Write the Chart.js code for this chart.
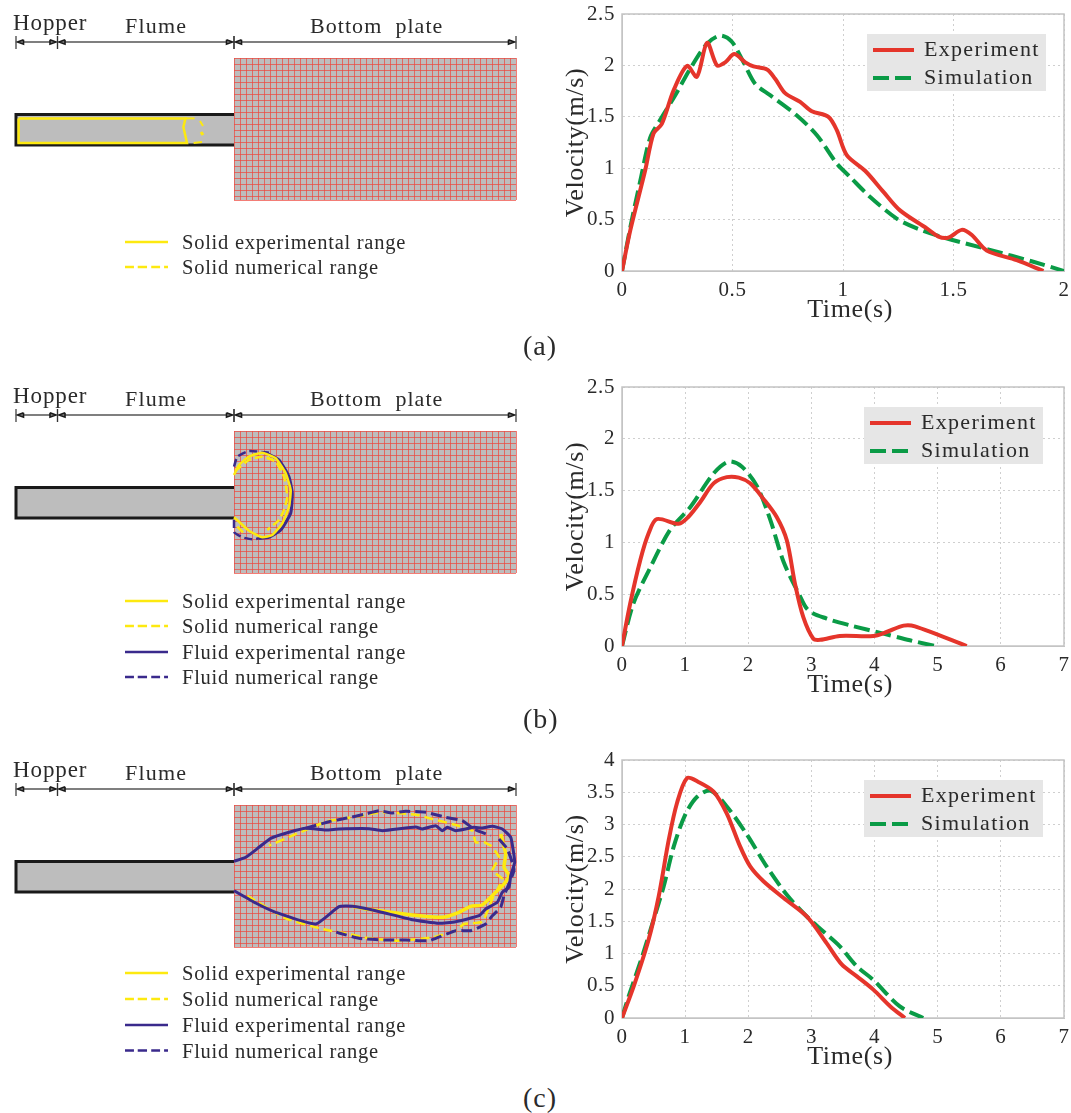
<!DOCTYPE html>
<html>
<head>
<meta charset="utf-8">
<title>Velocity and deposit range</title>
<script src="https://cdn.jsdelivr.net/npm/chart.js@4/dist/chart.umd.min.js"></script>
<style>
  html, body { margin: 0; background: #fff; }
  #page { position: relative; width: 1071px; height: 1113px; overflow: hidden; }
  canvas { position: absolute; }
  .txt { position: absolute; white-space: pre; color: #2a2a2a; font-family: "Liberation Serif", serif; transform: translateY(-50%); }
</style>
</head>
<body>
<div id="page"></div>
<script>
// Velocity curves, [time s, velocity m/s].
const expA = [[0,0],[.038,.4],[.105,.98],[.143,1.34],[.18,1.43],[.234,1.76],[.294,1.995],[.339,1.89],[.385,2.22],[.43,2],[.467,2.03],[.508,2.11],[.558,2.03],[.595,1.99],[.656,1.96],[.693,1.87],[.738,1.73],[.806,1.645],[.859,1.555],[.934,1.5],[.972,1.37],[1.017,1.127],[1.1,.975],[1.183,.77],[1.258,.59],[1.379,.415],[1.432,.335],[1.477,.325],[1.537,.4],[1.583,.35],[1.65,.2],[1.786,.105],[1.907,0]];
const simA = [[0,0],[.038,.43],[.083,.88],[.128,1.3],[.173,1.47],[.241,1.71],[.309,1.97],[.384,2.21],[.445,2.29],[.497,2.23],[.55,2.03],[.603,1.82],[.67,1.71],[.79,1.515],[.882,1.32],[.972,1.045],[1.032,.915],[1.123,.72],[1.243,.51],[1.334,.415],[1.454,.327],[1.665,.205],[1.861,.09],[2,0]];
const expB = [[0,0],[.13,.41],[.29,.83],[.42,1.085],[.55,1.225],[.9,1.18],[1.05,1.245],[1.24,1.39],[1.45,1.57],[1.66,1.63],[1.85,1.625],[2.03,1.57],[2.24,1.42],[2.45,1.245],[2.61,1.02],[2.74,.6],[2.87,.28],[3.03,.07],[3.14,.06],[3.45,.097],[3.98,.097],[4.19,.135],[4.46,.197],[4.64,.19],[5.46,0]];
const simB = [[0,0],[.18,.41],[.45,.76],[.76,1.12],[1.08,1.34],[1.45,1.665],[1.69,1.78],[1.9,1.73],[2.14,1.54],[2.35,1.215],[2.56,.81],[2.8,.505],[2.95,.345],[3.24,.265],[3.61,.2],[4.14,.12],[4.56,.055],[4.96,0]];
const expC = [[0,0],[.185,.49],[.42,1.21],[.58,1.88],[.74,2.76],[.87,3.33],[1.03,3.72],[1.21,3.66],[1.45,3.51],[1.66,3.17],[1.87,2.66],[2.03,2.35],[2.24,2.12],[2.56,1.86],[2.93,1.57],[3.24,1.16],[3.48,.83],[3.72,.645],[3.98,.44],[4.25,.18],[4.48,0]];
const simC = [[0,0],[.105,.335],[.32,.955],[.475,1.445],[.66,2.04],[.82,2.66],[1,3.15],[1.19,3.43],[1.4,3.525],[1.66,3.28],[1.98,2.84],[2.29,2.35],[2.61,1.91],[2.93,1.57],[3.19,1.34],[3.45,1.11],[3.72,.8],[3.98,.59],[4.4,.18],[4.77,0]];

const xTicksA = ['0','0.5','1','1.5','2'];
const xTicksBC = ['0','1','2','3','4','5','6','7'];
const yTicksAB = ['0','0.5','1','1.5','2','2.5'];
const yTicksC = ['0','0.5','1','1.5','2','2.5','3','3.5','4'];
const seriesNames = ['Experiment', 'Simulation'];

// Range outlines, [x, y] in px from the plate's top-left corner.
const solidExpA = [[-215.4,60.4],[-48.5,60.4],[-50.6,69],[-47,85],[-215.4,85],[-215.4,60.4]];
const solidNumA = [[-48.5,60.4],[-39.4,60.4]];
const solidNumA2 = [[-34,63],[-31,68]];
const solidNumA3 = [[-33,74],[-31,77]];
const solidNumA4 = [[-32,84],[-40.4,85]];

const solidExpB = [[0,44],[5,34],[15,25.7],[28.3,21.7],[41.7,27.3],[51.7,42.3],[56.7,59],[55,75.7],[48.3,92.3],[38.3,104],[28.3,106.3],[15,99.7],[5,90.7],[0,86.3]];
const solidNumB = [[1,40],[15,29],[28.3,25.7],[41.7,30.7],[50,45.7],[53.3,65.7],[50,79],[45,89],[33.3,99]];
const fluidExpB = [[31.7,21.7],[45,29],[55,45.7],[58.3,62.3],[56.7,82.3],[46.7,99],[35,106.3],[25,107.3]];
const fluidNumB = [[0,35.7],[3.3,25.7],[15,20],[35,21.7]];
const fluidNumB2 = [[0,89],[0,101],[8.3,106.3],[18.3,108.3],[28,107]];
const solidNumB2 = [[3.3,95.7],[10,102.3]];

const solidExpC = [[118.3,101.3],[131.7,104],[178.3,110],[208.3,112.3],[225,107.3],[236.7,101.3],[248.3,100],[261.7,87.3],[270,79],[275,70.7],[270,62.3],[271.7,49],[266.7,29]];
const solidNumC = [[13.3,90.7],[51.7,113.3],[88.3,124],[115,129],[135,133.3],[165,135.7],[198.3,132.3],[221.7,125.7],[230,119],[248.3,116.7],[258.3,94],[268.3,74],[258.3,65.7],[265,52.3],[256.7,40.7],[250,37.3],[241.7,37.3],[238.3,25.7],[218.3,19],[198.3,14],[181.7,9.7],[148.3,7.3],[118.3,12.3],[91.7,16.7],[58.3,30.7],[35,40.7]];
const fluidExpC = [[0,56.3],[11.7,52.3],[25,42.3],[36.7,33.3],[55,27.3],[71.7,23.3],[91.7,25],[105,24],[135,23.7],[148.3,25.7],[181.7,22],[188.3,24],[201.7,20.7],[208.3,25.7],[213.3,22.3],[221.7,25.7],[231.7,24],[240,22.3],[248.3,23],[258.3,21.3],[268.3,24],[276.7,32.3],[279,44],[280.7,57.3],[276.7,70.7],[275,82.3],[268.3,87.3],[263.3,97.3],[251.7,104],[245,110.7],[221.7,116.7],[205,118.3],[178.3,114.7],[141.7,105.7],[118.3,101.3],[105,101.7],[81.7,119],[41.7,107.3],[21.7,98],[0,85.7]];
const fluidNumC = [[71.7,23.3],[95,16.7],[111.7,13.3],[131.7,9],[145,5.7],[158.3,8],[171.7,6.3],[191.7,7.3],[211.7,12.3],[228.3,15.7],[240,24],[256.7,30.7]];
const fluidNumC2 = [[265,34],[273.3,44],[280,65],[270,90.7],[266.7,102.3],[258.3,110.7],[251.7,119],[236.7,125.7],[221.7,125.7],[195,135.7],[171.7,135],[151.7,135],[125,133.3],[105,128],[98.3,125.7]];

// Schematic parts, same units.
const flumeBody = [[-218,71.5],[0,71.5]];
const flumeWall = [[0,56.5],[-218,56.5],[-218,87],[0,87]];
const arrowSpans = [[-218,-176.5],[-176.5,0],[0,282]];

const rangeNames = ['Solid experimental range','Solid numerical range','Fluid experimental range','Fluid numerical range'];

const RED = '#e5352b', GREEN = '#0a9b46', YELLOW = '#fde910', NAVY = '#3a2a8c';
const SERIF = '"Liberation Serif", serif';
const page = document.getElementById('page');

function addCanvas(left, top, w, h) {
  const c = document.createElement('canvas');
  c.width = w; c.height = h;
  c.style.cssText = `left:${left}px;top:${top}px;width:${w}px;height:${h}px`;
  page.appendChild(c);
  return c;
}

function addText(str, x, y, size, spacing) {
  const d = document.createElement('div');
  d.className = 'txt';
  d.textContent = str;
  d.style.cssText = `left:${x}px;top:${y}px;font-size:${size}px;letter-spacing:${spacing}px`;
  page.appendChild(d);
}

// Gray box with line samples, in the plot's top right corner.
const legendBox = {
  id: 'legendBox',
  afterDraw(chart, _a, o) {
    const { ctx, chartArea: ca } = chart;
    const left = ca.right - o.fromRight, top = ca.top + 20;
    ctx.save();
    ctx.fillStyle = '#e6e6e6';
    ctx.fillRect(left, top, 179, 57);
    chart.data.datasets.forEach((ds, i) => {
      const y = top + 16 + i * 28;
      ctx.strokeStyle = ds.borderColor;
      ctx.lineWidth = ds.borderWidth;
      ctx.setLineDash(ds.borderDash || []);
      ctx.beginPath(); ctx.moveTo(left + 6, y); ctx.lineTo(left + 47, y); ctx.stroke();
      ctx.setLineDash([]);
      ctx.fillStyle = '#2a2a2a';
      ctx.font = '22px ' + SERIF;
      ctx.letterSpacing = '1.3px';
      ctx.textBaseline = 'middle';
      ctx.fillText(ds.label, left + 57, y);
    });
    ctx.restore();
  },
};

const plotFrame = {
  id: 'plotFrame',
  beforeDatasetsDraw(chart) {
    const { ctx, chartArea: ca } = chart;
    ctx.save();
    ctx.strokeStyle = '#c4c4c4';
    ctx.lineWidth = 1.5;
    ctx.strokeRect(ca.left, ca.top, ca.width, ca.height);
    ctx.restore();
  },
};

const spacedText = {
  id: 'spacedText',
  beforeDraw(chart) { chart.ctx.letterSpacing = '0.6px'; },
};

// Pin the plot box: no room kept for half-labels sticking out.
function pinAxis(s, size) {
  if (s.axis === 'x') s.height = size; else s.width = size;
  s.paddingTop = s.paddingBottom = s.paddingLeft = s.paddingRight = 0;
}

// cfg: top, plotTop, plotBottom, exp, sim, xMax, yMax, xStep, yStep, xLabels, yLabels, boxRight
function velocityChart(cfg) {
  const h = cfg.plotBottom + 60 - cfg.top;
  const canvas = addCanvas(550, cfg.top, 521, h);
  return new Chart(canvas, {
    type: 'scatter',
    data: {
      datasets: [
        { label: seriesNames[0], data: cfg.exp, showLine: true, borderColor: RED, borderWidth: 4, tension: 0.3, pointRadius: 0 },
        { label: seriesNames[1], data: cfg.sim, showLine: true, borderColor: GREEN, borderWidth: 4, borderDash: [16, 6], tension: 0.3, pointRadius: 0 },
      ],
    },
    options: {
      responsive: false,
      animation: false,
      layout: { padding: { top: cfg.plotTop - cfg.top, right: 7, left: 0, bottom: 0 } },
      plugins: { legend: { display: false }, tooltip: { enabled: false }, legendBox: { fromRight: cfg.boxRight } },
      scales: {
        x: {
          min: 0, max: cfg.xMax,
          afterFit: (s) => pinAxis(s, 60),
          grid: { color: '#cfcfcf', drawTicks: false },
          border: { dash: [2, 3], color: '#c4c4c4' },
          ticks: { stepSize: cfg.xStep, padding: 7, color: '#2a2a2a', font: { family: SERIF, size: 21 }, maxRotation: 0, callback: (v, i) => cfg.xLabels[i] },
          // the two leading spaces push the title right of the plot's centre, as in the original
          title: { display: true, text: '  Time(s)', color: '#2a2a2a', font: { family: SERIF, size: 26 }, padding: { top: 0, bottom: 5 } },
        },
        y: {
          min: 0, max: cfg.yMax,
          afterFit: (s) => pinAxis(s, 72),
          grid: { color: '#cfcfcf', drawTicks: false },
          border: { dash: [2, 3], color: '#c4c4c4' },
          ticks: { stepSize: cfg.yStep, padding: 7, color: '#2a2a2a', font: { family: SERIF, size: 21 }, callback: (v, i) => cfg.yLabels[i] },
          title: { display: true, text: 'Velocity(m/s)', color: '#2a2a2a', font: { family: SERIF, size: 26 }, padding: { top: 11, bottom: 0 } },
        },
      },
    },
    plugins: [plotFrame, legendBox, spacedText],
  });
}

function line(data, color, width, dash, tension) {
  return { data, showLine: true, borderColor: color, borderWidth: width, borderDash: dash || [], tension: tension === undefined ? 0.15 : tension, pointRadius: 0, clip: false, borderCapStyle: 'butt' };
}

// Plate background under the scale's grid lines.
const plateFill = {
  id: 'plateFill',
  beforeDraw(chart) {
    const { ctx, chartArea: ca } = chart;
    ctx.fillStyle = '#bdbdbd';
    ctx.fillRect(ca.left, ca.top, ca.width, ca.height);
  },
};

// Small solid head pointing along dir (+1 right, -1 left) with its tip at x.
function arrowHead(x, dir) {
  return line([[x - 6 * dir, -18.2], [x, -16], [x - 6 * dir, -13.8], [x - 6 * dir, -18.2]], '#1a1a1a', 1.6, [], 0);
}

// cfg: top (canvas top), outlines (datasets), legendRows (rel y of legend rows)
function schematic(cfg) {
  const H = 320;
  const canvas = addCanvas(0, cfg.top, 530, H);
  const sets = [
    line(flumeBody, '#bdbdbd', 30),
    line(flumeWall, '#1a1a1a', 3, [], 0),
  ];
  arrowSpans.forEach((s) => {
    sets.push(line([[s[0] + 3, -16], [s[1] - 3, -16]], '#555', 1.5));
    sets.push(arrowHead(s[0] + 1.5, -1));
    sets.push(arrowHead(s[1] - 1.5, 1));
    sets.push(line([[s[0], -22], [s[0], -9]], '#333', 1.2));
    sets.push(line([[s[1], -22], [s[1], -9]], '#333', 1.2));
  });
  cfg.outlines.forEach((o) => sets.push(line(o.data, o.color, o.width, o.dash, o.tension)));
  cfg.legendRows.forEach((y, i) => {
    const color = i < 2 ? YELLOW : NAVY;
    sets.push(line([[-109, y], [-66, y]], color, 2.5, i % 2 ? [9, 4] : []));
    addText(rangeNames[i], 182, cfg.top + 58 + y, 20.5, 0.75);
  });
  sets.forEach((s, i) => { s.order = -i; });

  addText('Hopper', 13, cfg.top + 23, 23, 0.9);
  addText('Flume', 125, cfg.top + 26, 22, 1.2);
  addText('Bottom  plate', 310, cfg.top + 26, 22, 1.05);

  return new Chart(canvas, {
    type: 'scatter',
    data: { datasets: sets },
    options: {
      responsive: false,
      animation: false,
      layout: { padding: { left: 234, right: 14, top: 58, bottom: H - 200 } },
      plugins: { legend: { display: false }, tooltip: { enabled: false } },
      scales: {
        // no user min/max here: the flume sits at x<0 and must not get trimmed
        x: {
          type: 'linear', position: 'top', bounds: 'data',
          afterDataLimits: (s) => { s.min = 0; s.max = 282; },
          grid: { color: 'rgba(238,70,60,.7)', lineWidth: 1, drawTicks: false },
          border: { display: false },
          ticks: { display: false, stepSize: 6 },
        },
        y: {
          type: 'linear', reverse: true, bounds: 'data',
          afterDataLimits: (s) => { s.min = 0; s.max = 142; },
          grid: { color: 'rgba(238,70,60,.7)', lineWidth: 1, drawTicks: false },
          border: { display: false },
          ticks: { display: false, stepSize: 6 },
        },
      },
    },
    plugins: [plateFill],
  });
}

schematic({
  top: 0,
  legendRows: [184, 209],
  outlines: [
    { data: solidExpA, color: YELLOW, width: 2.5, tension: 0 },
    { data: solidNumA, color: YELLOW, width: 2 },
    { data: solidNumA2, color: YELLOW, width: 2 },
    { data: solidNumA3, color: YELLOW, width: 3 },
    { data: solidNumA4, color: YELLOW, width: 2 },
  ],
});
schematic({
  top: 373,
  legendRows: [170, 195, 221, 246],
  outlines: [
    { data: fluidExpB, color: NAVY, width: 3 },
    { data: fluidNumB, color: NAVY, width: 2.5, dash: [8, 4] },
    { data: fluidNumB2, color: NAVY, width: 2.5, dash: [8, 4] },
    { data: solidExpB, color: YELLOW, width: 2.5 },
    { data: solidNumB, color: YELLOW, width: 2.5, dash: [8, 4] },
    { data: solidNumB2, color: YELLOW, width: 2.5, dash: [8, 4] },
  ],
});
schematic({
  top: 747,
  legendRows: [168, 194, 220, 245.5],
  outlines: [
    { data: solidExpC, color: YELLOW, width: 3.5 },
    { data: solidNumC, color: YELLOW, width: 2.5, dash: [9, 5] },
    { data: fluidExpC, color: NAVY, width: 3 },
    { data: fluidNumC, color: NAVY, width: 3, dash: [11, 5] },
    { data: fluidNumC2, color: NAVY, width: 3, dash: [11, 5] },
  ],
});

velocityChart({ top: 0, plotTop: 14, plotBottom: 271, exp: expA, sim: simA, xMax: 2, yMax: 2.5, xStep: .5, yStep: .5, xLabels: xTicksA, yLabels: yTicksAB, boxRight: 197 });
velocityChart({ top: 370, plotTop: 387, plotBottom: 646, exp: expB, sim: simB, xMax: 7, yMax: 2.5, xStep: 1, yStep: .5, xLabels: xTicksBC, yLabels: yTicksAB, boxRight: 200 });
velocityChart({ top: 740, plotTop: 760, plotBottom: 1018, exp: expC, sim: simC, xMax: 7, yMax: 4, xStep: 1, yStep: .5, xLabels: xTicksBC, yLabels: yTicksC, boxRight: 200 });

addText('(a)', 523, 346, 28, 1);
addText('(b)', 523, 719, 28, 1);
addText('(c)', 523, 1098, 28, 1);
</script>
</body>
</html>
